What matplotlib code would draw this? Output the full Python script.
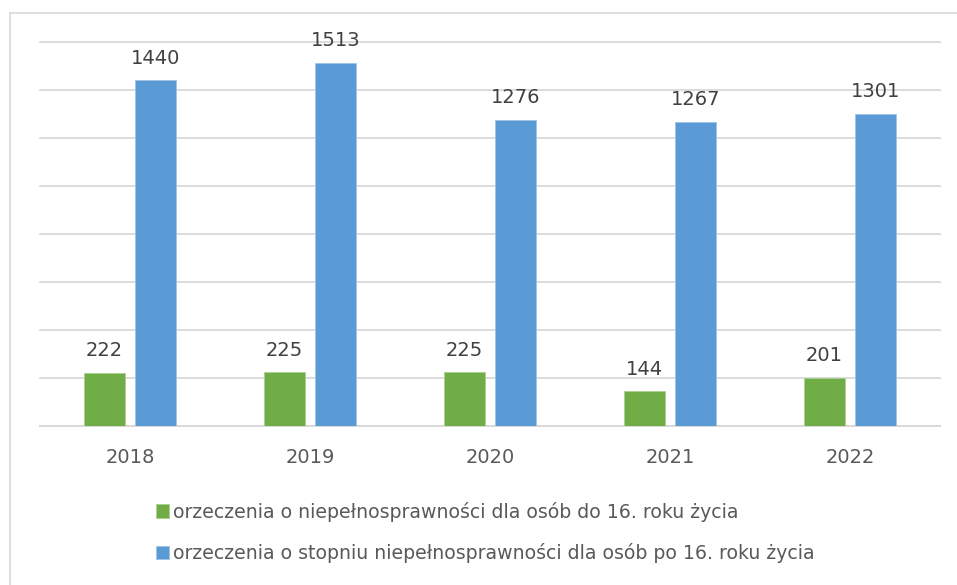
import numpy as np
import matplotlib.pyplot as plt
from matplotlib.lines import Line2D

# ----------------------------------------------------
# Data
# ----------------------------------------------------

years = ["2018", "2019", "2020", "2021", "2022"]

under_16 = [222, 225, 225, 144, 201]
over_16 = [1440, 1513, 1276, 1267, 1301]

labels = [
    "orzeczenia o niepełnosprawności dla osób do 16. roku życia",
    "orzeczenia o stopniu niepełnosprawności dla osób po 16. roku życia",
]

GREEN = "#70AD47"
BLUE = "#5B9BD5"
TEXT = "#595959"
LABEL = "#404040"
GRID = "#D9D9D9"

plt.rcParams["font.family"] = ["DejaVu Sans"]

W, H = 957, 585

fig = plt.figure(figsize=(W / 100, H / 100), dpi=100)

# outer chart border (only top and left are visible in the crop)
top = (H - 13) / H
left = 10 / W
fig.add_artist(Line2D([left, 1.0], [top, top], transform=fig.transFigure,
                      color=GRID, linewidth=1.2))
fig.add_artist(Line2D([left, left], [0.0, top], transform=fig.transFigure,
                      color=GRID, linewidth=1.2))

ax = fig.add_axes([40 / W, (H - 426) / H, 900 / W, 384 / H])

x = np.arange(len(years))
width = 0.228
offset = 0.144

b1 = ax.bar(x - offset, under_16, width, color=GREEN,
            edgecolor="#A9D18E", linewidth=0.6, label=labels[0], zorder=3)
b2 = ax.bar(x + offset, over_16, width, color=BLUE,
            edgecolor="#9DC3E6", linewidth=0.6, label=labels[1], zorder=3)

for bars, vals in ((b1, under_16), (b2, over_16)):
    for rect, v in zip(bars, vals):
        ax.annotate(str(v),
                    (rect.get_x() + rect.get_width() / 2, rect.get_height()),
                    xytext=(0, 9), textcoords="offset points",
                    ha="center", va="bottom", fontsize=14, color=LABEL)

ax.set_xlim(-0.5, len(years) - 0.5)
ax.set_ylim(0, 1600)
ax.set_yticks(np.arange(0, 1601, 200))
ax.yaxis.grid(True, color=GRID, linewidth=1.3, zorder=0)
for gl in ax.get_ygridlines():
    gl.set_clip_on(False)
ax.tick_params(axis="y", left=False, labelleft=False)

ax.set_xticks(x)
ax.set_xticklabels(years, fontsize=14, color=TEXT)
ax.tick_params(axis="x", length=0, pad=16)

for side in ("top", "right", "left"):
    ax.spines[side].set_visible(False)
ax.spines["bottom"].set_color(GRID)
ax.spines["bottom"].set_linewidth(1.3)

fig.legend(handles=[b1, b2], loc="upper left",
           bbox_to_anchor=(148 / W, (H - 494) / H),
           ncol=1, frameon=False, fontsize=13.6, labelcolor=TEXT,
           handlelength=0.7, handleheight=0.7, handletextpad=0.2,
           labelspacing=1.15, borderaxespad=0)

plt.savefig("out.png", dpi=100)

plt.close()
